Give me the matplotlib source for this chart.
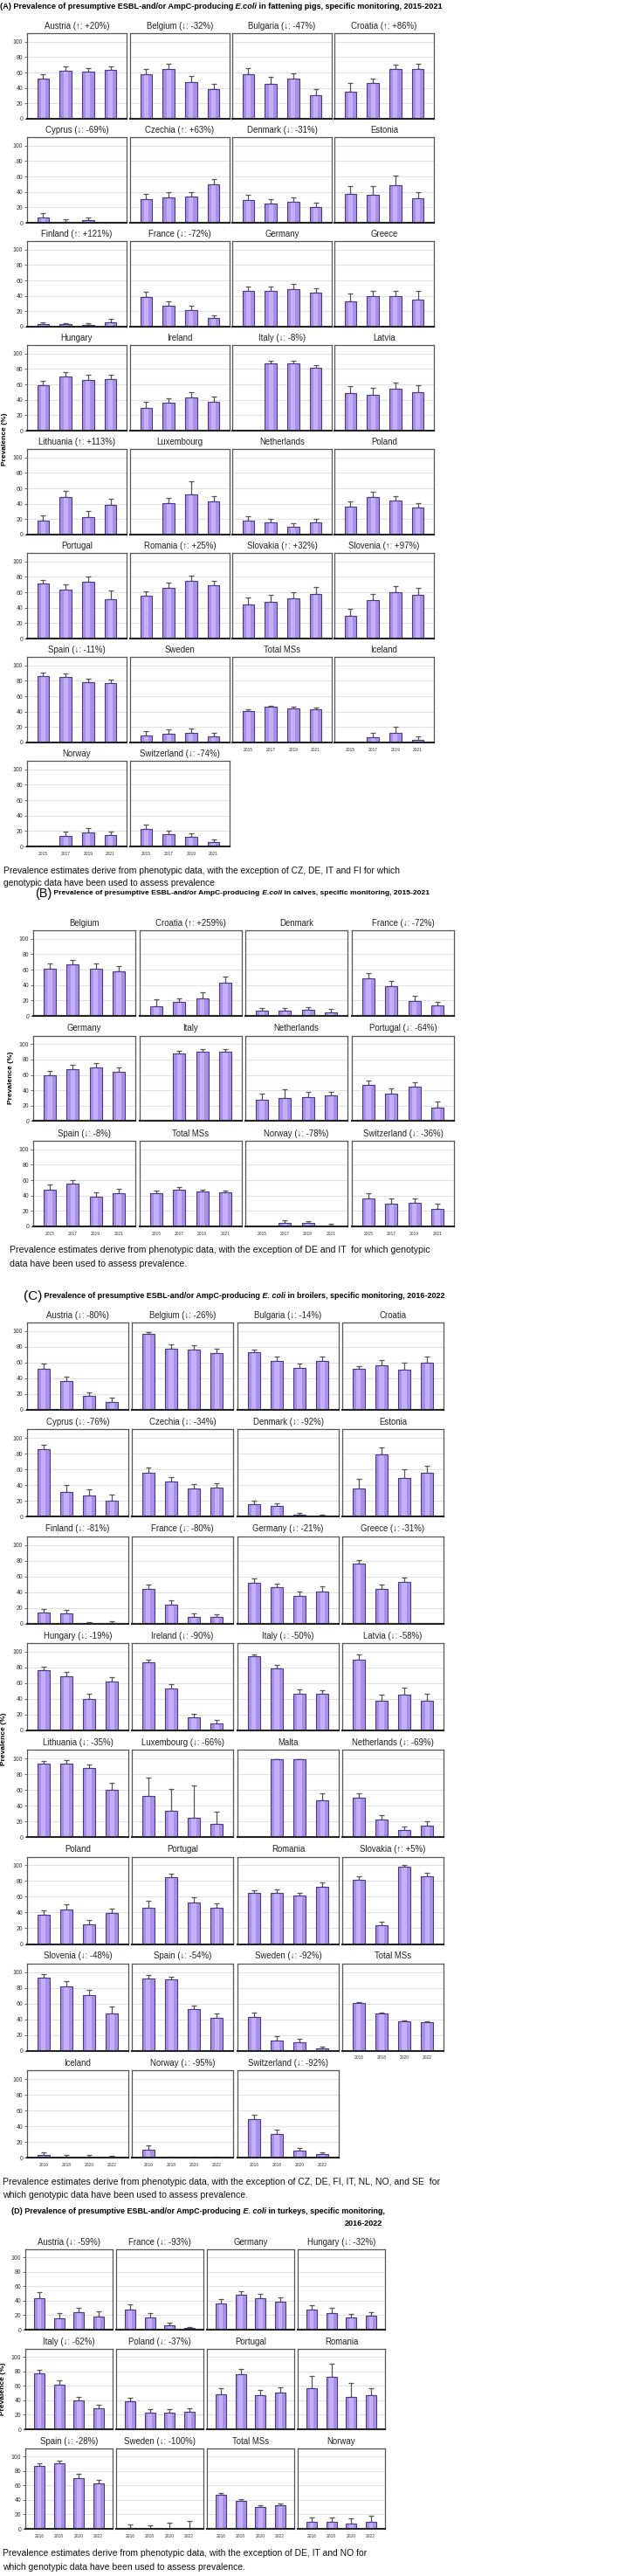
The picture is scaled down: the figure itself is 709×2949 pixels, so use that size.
import matplotlib.pyplot as plt
import numpy as np

nan = np.nan

YEARS_1 = ["2015", "2017", "2019", "2021"]
YEARS_2 = ["2016", "2018", "2020", "2022"]

# ---- (A) fattening pigs, 2015-2021 ----
pigs_titles = [
    "Austria (↑: +20%)", "Belgium (↓: -32%)", "Bulgaria (↓: -47%)", "Croatia (↑: +86%)",
    "Cyprus (↓: -69%)", "Czechia (↑: +63%)", "Denmark (↓: -31%)", "Estonia",
    "Finland (↑: +121%)", "France (↓: -72%)", "Germany", "Greece",
    "Hungary", "Ireland", "Italy (↓: -8%)", "Latvia",
    "Lithuania (↑: +113%)", "Luxembourg", "Netherlands", "Poland",
    "Portugal", "Romania (↑: +25%)", "Slovakia (↑: +32%)", "Slovenia (↑: +97%)",
    "Spain (↓: -11%)", "Sweden", "Total MSs", "Iceland",
    "Norway", "Switzerland (↓: -74%)",
]
pigs_prev = [
    [52, 62, 61, 63], [58, 65, 48, 39], [58, 45, 52, 31], [35, 46, 64, 65],
    [7, 1, 3, nan], [31, 33, 34, 50], [29.5, 25, 27, 20], [37, 36, 49, 32],
    [3, 3, 2, 6], [38, 27, 22, 11], [46, 47, 49, 44], [33, 40, 40, 35],
    [59, 70, 66, 67], [29, 36, 43, 37.5], [nan, 87.5, 87.5, 81], [49, 46, 54, 50],
    [18, 48.5, 23, 38], [nan, 41, 52.5, 42.5], [18.5, 16, 10, 16], [36.5, 49, 44, 35],
    [71, 63.5, 74, 51], [55, 66, 75, 69], [44, 48, 52, 58], [29, 50, 60.5, 57],
    [86, 85, 78, 77], [9.5, 11.5, 12.5, 8], [41, 46, 44.5, 43.5], [nan, 7, 12.5, 3.5],
    [nan, 14, 18, 14.5], [22.5, 15.5, 12.5, 5.5],
]
pigs_upper = [
    [58, 68, 66, 68], [64, 71, 55, 45], [66, 54, 59, 38], [46, 52, 70, 71],
    [12.5, 5, 7, nan], [37, 40, 40, 57], [36, 31, 33, 26], [48, 48, 61, 40],
    [6, 5, 5, 10], [45, 33, 27, 15], [52, 52, 55, 50], [43, 47, 47, 47],
    [65, 76, 72, 73], [37.5, 42, 50, 44], [nan, 91, 91, 85], [57.5, 55, 62.5, 59],
    [25, 57, 31, 46], [nan, 48, 69, 50], [24, 20.5, 14.5, 20.5], [43, 55, 50, 41],
    [76, 70, 80, 62], [61, 72, 81, 75], [53, 57, 60.5, 66.5], [38, 58, 68.5, 66],
    [90.5, 89, 83, 81.5], [14.5, 17, 18, 12.5], [42.5, 47.5, 46, 45], [nan, 13, 20, 8],
    [nan, 19, 24, 19], [28, 20.5, 17.5, 9.5],
]

# ---- (B) calves, 2015-2021 ----
calves_titles = [
    "Belgium", "Croatia (↑: +259%)", "Denmark", "France (↓: -72%)",
    "Germany", "Italy", "Netherlands", "Portugal (↓: -64%)",
    "Spain (↓: -8%)", "Total MSs", "Norway (↓: -78%)", "Switzerland (↓: -36%)",
]
calves_prev = [
    [61, 66.5, 61, 58], [12, 18, 23, 43.5], [6.5, 7, 7.5, 5], [49, 39, 19.5, 14],
    [60, 67, 70, 64], [nan, 88, 90.5, 89.5], [28, 30, 31.5, 33], [46.5, 36, 44.5, 17],
    [47.5, 55, 38.5, 43.5], [43.5, 48, 45.5, 44], [nan, 4.5, 4, 1], [36, 30, 30.5, 23],
]
calves_upper = [
    [67.5, 72, 67.5, 64], [21, 23, 30.5, 51], [10, 10.5, 11.5, 9], [55.5, 45, 25.5, 18.5],
    [65.5, 72.5, 75, 70], [nan, 91.5, 93.5, 93], [36, 41, 37.5, 38.5], [53, 42.5, 50.5, 26],
    [54, 59.5, 44, 49], [46, 50.5, 48, 46], [nan, 8, 7, 3], [42.5, 36, 36.5, 29],
]

# ---- (C) broilers, 2016-2022 ----
broilers_titles = [
    "Austria (↓: -80%)", "Belgium (↓: -26%)", "Bulgaria (↓: -14%)", "Croatia",
    "Cyprus (↓: -76%)", "Czechia (↓: -34%)", "Denmark (↓: -92%)", "Estonia",
    "Finland (↓: -81%)", "France (↓: -80%)", "Germany (↓: -21%)", "Greece (↓: -31%)",
    "Hungary (↓: -19%)", "Ireland (↓: -90%)", "Italy (↓: -50%)", "Latvia (↓: -58%)",
    "Lithuania (↓: -35%)", "Luxembourg (↓: -66%)", "Malta", "Netherlands (↓: -69%)",
    "Poland", "Portugal", "Romania", "Slovakia (↑: +5%)",
    "Slovenia (↓: -48%)", "Spain (↓: -54%)", "Sweden (↓: -92%)", "Total MSs",
    "Iceland", "Norway (↓: -95%)", "Switzerland (↓: -92%)",
]
broilers_prev = [
    [52, 36.5, 17.5, 10], [96.5, 78, 76.5, 72], [73, 62.5, 53, 62.5], [52.5, 57, 51, 59.5],
    [85.5, 31, 27, 20.5], [56, 44.5, 36, 36.5], [15.5, 14, 2.5, 1], [35.5, 79, 49, 56],
    [14, 12.5, 0.5, 1], [43.5, 24.5, 8.5, 8], [51.5, 46.5, 35.5, 41], [76.5, 44.5, 53, nan],
    [76, 69, 40, 61.5], [86, 53, 16, 8.5], [94, 79, 47, 46], [90, 38, 45, 37.5],
    [93, 93.5, 87.5, 60], [52, 33, 24.5, 17], [nan, 99.5, 99.5, 46.5], [50, 22.5, 9, 15],
    [37, 44, 25, 39], [46, 85, 53, 46], [64.5, 65, 61.5, 73], [81.5, 23.5, 98.5, 86],
    [93, 82, 70.5, 48], [92, 91, 53, 42], [43, 13.5, 11, 3], [60.5, 48, 38, 36],
    [3, 0, 0, 0], [10.5, 0, 0, 0], [49, 30, 9, 4],
]
broilers_upper = [
    [58.5, 42.5, 22.5, 15], [98.5, 83, 82, 78], [77, 67.5, 58.5, 67.5], [55.5, 63, 59.5, 68],
    [91, 40, 35, 28], [62, 50.5, 41.5, 43], [20.5, 17, 5, 3], [48, 87.5, 60.5, 64.5],
    [18, 17, 2, 3], [49.5, 30, 12.5, 12], [57.5, 51, 41, 47], [81, 50, 58.5, nan],
    [81, 74.5, 46, 67.5], [90, 59, 20.5, 13], [96.5, 83, 52, 51.5], [96, 45.5, 54, 46],
    [97, 98, 92.5, 68.5], [76, 61.5, 65.5, 32], [nan, 99.5, 99.5, 56], [56, 28, 13.5, 20.5],
    [43, 50, 30, 44.5], [55, 89, 59.5, 52], [68.5, 69, 65, 78], [85.5, 28, 100, 91],
    [97, 88.5, 78, 56.5], [96, 94.5, 58, 47], [49, 18.5, 15, 5.5], [62, 49, 39, 37.5],
    [7, 3.5, 3.5, 2.5], [16, 1.5, 1.5, 1.5], [55, 36, 12, 6.5],
]

# ---- (D) turkeys, 2016-2022 ----
turkeys_titles = [
    "Austria (↓: -59%)", "France (↓: -93%)", "Germany", "Hungary (↓: -32%)",
    "Italy (↓: -62%)", "Poland (↓: -37%)", "Portugal", "Romania",
    "Spain (↓: -28%)", "Sweden (↓: -100%)", "Total MSs", "Norway",
]
turkeys_prev = [
    [44, 16, 24, 17.5], [28, 17, 6, 2], [36.5, 48.5, 44, 38.5], [28, 23.5, 16.5, 19],
    [77.5, 62, 39.5, 29], [38.5, 22.5, 22.5, 24], [48.5, 76, 46.5, 51], [56.5, 72, 45, 47.5],
    [86.5, 90.5, 70.5, 63], [1, 0, 0, 0], [46.5, 39, 30.5, 33], [9.5, 9.5, 7.5, 10],
]
turkeys_upper = [
    [52, 22.5, 30, 25.5], [34.5, 22.5, 9.5, 4], [42, 53.5, 49, 44.5], [34, 30, 22, 24.5],
    [82, 67.5, 45, 34], [44, 28, 28, 29], [56.5, 83, 54, 57.5], [74, 91, 64, 56.5],
    [90, 94, 76, 68], [6.5, 5, 8, 10.5], [49, 41, 32, 35.5], [15.5, 16, 14, 17.5],
]

notes = {
    "A": ["Prevalence estimates derive from phenotypic data, with the exception of CZ, DE, IT and FI for which",
          "genotypic data have been used to assess prevalence"],
    "B": ["Prevalence estimates derive from phenotypic data, with the exception of DE and IT  for which genotypic",
          "data have been used to assess prevalence."],
    "C": ["Prevalence estimates derive from phenotypic data, with the exception of CZ, DE, FI, IT, NL, NO, and SE  for",
          "which genotypic data have been used to assess prevalence."],
    "D": ["Prevalence estimates derive from phenotypic data, with the exception of DE, IT and NO for",
          "which genotypic data have been used to assess prevalence."],
}

plt.rcParams["font.family"] = ["Liberation Sans Narrow", "Liberation Sans", "DejaVu Sans"]

BAR = "#a98fe9"
SHINE = "#c4b0f8"
EDGE = "#4a3a7e"
ERR = "#555555"

W, H = 709, 2949
fig = plt.figure(figsize=(W / 100, H / 100), dpi=100)
fig.patch.set_facecolor("white")
renderer = fig.canvas.get_renderer()

# overlay in pixel coordinates for all free text
bg = fig.add_axes([0, 0, 1, 1])
bg.set_xlim(0, W)
bg.set_ylim(H, 0)
bg.set_axis_off()


def measure(s, **kw):
    t = fig.text(0, 0, s, **kw)
    w = t.get_window_extent(renderer).width
    t.remove()
    return w


def fit(s, target, **kw):
    # font size (pt) that makes s about target pixels wide
    return 10 * target / measure(s, fontsize=10, **kw)


# the original uses a narrow face; sizes are fitted to the widths seen there
TITLE_FS = fit("Lithuania (↑: +113%)", 88)
TICK_FS = fit("100", 11.5)
YEAR_FS = fit("2015", 11)


def panel(left, top, w, h, title, prev, upper, years, first_col, show_years):
    ax = fig.add_axes([left / W, 1 - (top + h) / H, w / W, h / H])
    x = np.arange(4)
    prev = np.array(prev, dtype=float)
    upper = np.array(upper, dtype=float)
    ok = ~np.isnan(prev)
    ax.errorbar(x[ok], prev[ok], yerr=[np.zeros(ok.sum()), upper[ok] - prev[ok]],
                fmt="none", ecolor=ERR, elinewidth=0.9, capsize=2.4, capthick=0.9, zorder=1.5)
    ax.bar(x[ok], prev[ok], width=0.52, color=BAR, linewidth=0, zorder=2)
    ax.bar(x[ok], prev[ok], width=0.2, color=SHINE, linewidth=0, zorder=2.1)
    ax.bar(x[ok], prev[ok], width=0.52, fill=False, edgecolor=EDGE, linewidth=0.8, zorder=2.2)

    ax.set_xlim(-0.72, 3.72)
    ax.set_ylim(0, 111)
    ax.set_yticks([0, 20, 40, 60, 80, 100])
    ax.yaxis.grid(True, color="#e2e2e2", linewidth=0.8)
    ax.set_axisbelow(True)
    for s in ["top", "left", "right"]:
        ax.spines[s].set_color("#555555")
        ax.spines[s].set_linewidth(0.9)
    ax.spines["bottom"].set_color("#222222")
    ax.spines["bottom"].set_linewidth(1.5)

    ax.set_xticks(x)
    if show_years:
        ax.set_xticklabels(years)
        ax.tick_params(axis="x", length=0, labelsize=YEAR_FS, pad=4, labelcolor="#333333")
    else:
        ax.tick_params(axis="x", length=0, labelbottom=False)
    if first_col:
        ax.tick_params(axis="y", length=2.5, width=0.6, color="#555555",
                       labelsize=TICK_FS, pad=1, labelcolor="#333333")
    else:
        ax.tick_params(axis="y", length=0, labelleft=False)

    ax.annotate(title, xy=(0.5, 1), xycoords="axes fraction", xytext=(0, 6),
                textcoords="offset points", ha="center", va="center",
                fontsize=TITLE_FS, color="#222222")
    return ax


def section(titles, prev, upper, years, lefts, top0, pitch, w, h):
    n = len(titles)
    for i in range(n):
        r, c = divmod(i, 4)
        panel(lefts[c], top0 + r * pitch, w, h, titles[i], prev[i], upper[i],
              years, c == 0, i + 4 >= n)


def rich_text(x, y, parts, width):
    # parts: (text, relative size, style); spaces lead each piece so they are kept
    total = sum(measure(t, fontsize=10 * rel, fontweight=st.get("fontweight", "bold"),
                        style=st.get("style", "normal")) for t, rel, st in parts)
    base = 10 * width / total
    prev = None
    for text, rel, st in parts:
        kw = dict(fontweight="bold", va="center", color="black", fontsize=base * rel)
        kw.update(st)
        if prev is None:
            prev = bg.text(x, y, text, ha="left", **kw)
        else:
            prev = bg.annotate(text, xy=(1, 0.5), xycoords=prev, ha="left", **kw)
    return base


def note(x, y, lines, gap, width):
    fs = fit(lines[0], width)
    for k, line in enumerate(lines):
        bg.text(x, y + k * gap, line, ha="left", va="center", fontsize=fs, color="#111111")


def ylabel(x, y):
    kw = dict(fontweight="bold", family=["Liberation Sans", "DejaVu Sans"])
    fs = fit("Prevalence (%)", 60, **kw)
    bg.text(x, y, "Prevalence (%)", rotation=90, ha="center", va="center", fontsize=fs, **kw)


# ---- (A) ----
rich_text(0, 8, [
    ("(A) Prevalence of presumptive ESBL-and/or AmpC-producing", 1, {}),
    (" E.coli", 1, dict(style="italic")),
    (" in fattening pigs, specific monitoring, 2015-2021", 1, {}),
], 508)
section(pigs_titles, pigs_prev, pigs_upper, YEARS_1, [31, 149, 266, 383], 38, 119, 114, 98)
ylabel(6, 503)
note(4, 997, notes["A"], 14, 454)

# ---- (B) ----
rich_text(40, 1023, [
    ("(B)", 1.7, dict(fontweight="normal")),
    (" Prevalence of presumptive ESBL-and/or AmpC-producing", 1, {}),
    (" E.coli", 1, dict(style="italic")),
    (" in calves, specific monitoring, 2015-2021", 1, {}),
], 444)
section(calves_titles, calves_prev, calves_upper, YEARS_1, [38, 160, 281, 403], 1065, 120.5, 117, 98)
ylabel(13, 1234)
note(11, 1431, notes["B"], 16, 485)

# ---- (C) ----
rich_text(27, 1484, [
    ("(C)", 1.7, dict(fontweight="normal")),
    (" Prevalence of presumptive ESBL-and/or AmpC-producing", 1, {}),
    (" E. coli", 1, dict(style="italic")),
    (" in broilers, specific monitoring, 2016-2022", 1, {}),
], 480)
section(broilers_titles, broilers_prev, broilers_upper, YEARS_2, [31, 151, 272, 392], 1514, 122.3, 116, 100)
ylabel(5, 1991)
note(3, 2498, notes["C"], 15, 502)

# ---- (D) ----
d_fs = rich_text(13, 2532, [
    ("(D) Prevalence of presumptive ESBL-and/or AmpC-producing", 1, {}),
    (" E. coli", 1, dict(style="italic")),
    (" in turkeys, specific monitoring,", 1, {}),
], 425)
bg.text(438, 2546, "2016-2022", ha="right", va="center", fontsize=d_fs, fontweight="bold")
section(turkeys_titles, turkeys_prev, turkeys_upper, YEARS_2, [29, 133, 237, 341], 2575, 114, 100, 92)
ylabel(4, 2735)
note(3, 2923, notes["D"], 16, 419)

fig.savefig("out.png", dpi=100)
plt.close(fig)
